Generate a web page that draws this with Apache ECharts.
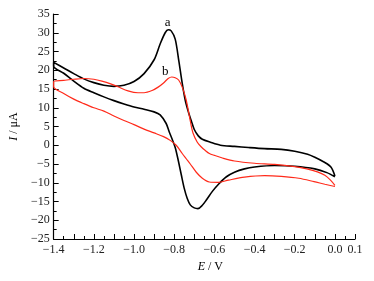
<!DOCTYPE html>
<html>
<head>
<meta charset="utf-8">
<script src="https://cdn.jsdelivr.net/npm/echarts@6/dist/echarts.min.js"></script>
<style>
  html, body { margin: 0; padding: 0; background: #fff; }
  #chart { width: 374px; height: 281px; }
</style>
</head>
<body>
<div id="chart"></div>
<script>
// curve a (black): sweep from 0.0 V to -1.4 V and back, [E, I]
const curveA = [
  [0.0, -8.2], [-0.02, -5.8], [-0.057, -4.4], [-0.1, -3.2], [-0.136, -2.4],
  [-0.2, -1.6], [-0.267, -1.1], [-0.35, -0.9], [-0.43, -0.6], [-0.5, -0.3],
  [-0.57, 0], [-0.62, 0.8], [-0.66, 1.6], [-0.68, 2.5], [-0.7, 4.2],
  [-0.715, 6.5], [-0.73, 9], [-0.745, 12], [-0.76, 16.5], [-0.777, 22.5],
  [-0.795, 28.3], [-0.815, 30.5], [-0.83, 30.8], [-0.845, 30], [-0.87, 27],
  [-0.9, 22.8], [-0.95, 19.1], [-1.0, 17], [-1.05, 16], [-1.1, 15.7],
  [-1.15, 16], [-1.2, 16.7], [-1.25, 17.7], [-1.3, 19.1], [-1.35, 20.6],
  [-1.4, 22.1],
  [-1.4, 21.1], [-1.35, 19.2], [-1.3, 17.1], [-1.25, 15.2], [-1.2, 14.0],
  [-1.15, 12.9], [-1.1, 11.9], [-1.05, 11.0], [-1.0, 10.2], [-0.95, 9.6],
  [-0.9, 8.9], [-0.87, 8.1], [-0.84, 5.8], [-0.825, 3.6], [-0.81, 1.6],
  [-0.795, -0.6], [-0.78, -4], [-0.765, -7.8], [-0.75, -11.5], [-0.735, -14.2],
  [-0.72, -15.9], [-0.7, -16.7], [-0.682, -16.9], [-0.66, -16], [-0.64, -14.6],
  [-0.61, -12.3], [-0.576, -10.2], [-0.54, -8.4], [-0.5, -7.2], [-0.45, -6.3],
  [-0.4, -5.8], [-0.3, -5.4], [-0.2, -5.6], [-0.1, -6.3], [-0.04, -7.3],
  [0.0, -8.4]
]

// curve b (red)
const curveB = [
  [0.0, -10.7], [-0.022, -9.3], [-0.05, -8], [-0.087, -7.1], [-0.14, -6.3],
  [-0.2, -5.7], [-0.3, -5.1], [-0.4, -4.8], [-0.5, -4.2], [-0.56, -3.4],
  [-0.6, -2.7], [-0.625, -2.2], [-0.645, -1.4], [-0.666, -0.4], [-0.685, 0.8],
  [-0.706, 3.2], [-0.72, 6.5], [-0.74, 12], [-0.76, 15.5], [-0.778, 17.4],
  [-0.795, 18], [-0.812, 18.2], [-0.83, 17.8], [-0.853, 16.6], [-0.88, 15.5],
  [-0.91, 14.6], [-0.95, 14.0], [-0.98, 14.0], [-1.03, 14.5], [-1.08, 15.6],
  [-1.113, 16.3], [-1.16, 17.1], [-1.2, 17.6], [-1.25, 17.8], [-1.3, 17.6],
  [-1.35, 17.3], [-1.4, 17.0],
  [-1.4, 15.6], [-1.35, 13.8], [-1.3, 12.3], [-1.25, 11.1], [-1.2, 10.0],
  [-1.15, 9.1], [-1.1, 7.8], [-1.05, 6.6], [-1.0, 5.5], [-0.95, 4.3],
  [-0.9, 3.3], [-0.853, 2.3], [-0.82, 1.3], [-0.79, 0], [-0.76, -2.2],
  [-0.74, -3.6], [-0.72, -5], [-0.69, -7.2], [-0.66, -8.8], [-0.625, -9.8],
  [-0.58, -9.9], [-0.53, -9.3], [-0.45, -8.5], [-0.35, -8.1], [-0.267, -8.3],
  [-0.18, -8.8], [-0.104, -9.7], [-0.05, -10.4], [0.0, -11.0]
]

const labelA = [-0.833, 32.6]
const labelB = [-0.845, 19.6]

const FONT = '"Liberation Serif", "DejaVu Serif", serif'

function minus(s) { return String(s).replace('-', '\u2212') }

const chart = echarts.init(document.getElementById('chart'), null, { renderer: 'canvas' })

function tag(text, coord) {
  return {
    symbol: 'circle', symbolSize: 0, silent: true,
    label: { show: true, formatter: text, position: 'inside', color: '#000', fontFamily: FONT, fontSize: 13 },
    data: [{ coord }],
  }
}

chart.setOption({
  backgroundColor: '#fff',
  animation: false,
  grid: { left: 48, right: 19, top: 14, bottom: 42 },
  xAxis: {
    type: 'value', min: -1.4, max: 0.1, interval: 0.1,
    name: '{i|E} / V', nameLocation: 'middle', nameGap: 20,
    nameTextStyle: {
      color: '#000', fontFamily: FONT, fontSize: 12, padding: [0, 0, 0, 12],
      rich: { i: { fontStyle: 'italic', fontFamily: FONT, fontSize: 12, color: '#000' } },
    },
    axisLine: { show: true, onZero: false, lineStyle: { color: '#000', width: 1.2 } },
    axisTick: { show: true, inside: true, length: 5, lineStyle: { color: '#000' } },
    minorTick: { show: true, splitNumber: 2, length: 3, lineStyle: { color: '#000' } },
    splitLine: { show: false },
    axisLabel: {
      color: '#222', fontFamily: FONT, fontSize: 12, margin: 5,
      formatter: v => {
        const r = Math.round(v * 10)
        if (r % 2 !== 0 && r !== 1) return ''
        return minus((r / 10).toFixed(1))
      },
    },
  },
  yAxis: {
    type: 'value', min: -25, max: 35, interval: 5,
    name: '{i|I} / \u03bcA', nameLocation: 'middle', nameGap: 21,
    nameTextStyle: {
      color: '#000', fontFamily: FONT, fontSize: 12,
      rich: { i: { fontStyle: 'italic', fontFamily: FONT, fontSize: 12, color: '#000' } },
    },
    axisLine: { show: true, onZero: false, lineStyle: { color: '#000', width: 1.2 } },
    axisTick: { show: true, inside: true, length: 5, lineStyle: { color: '#000' } },
    minorTick: { show: true, splitNumber: 2, length: 3, lineStyle: { color: '#000' } },
    splitLine: { show: false },
    axisLabel: {
      color: '#222', fontFamily: FONT, fontSize: 12, margin: 4,
      formatter: v => minus(v),
    },
  },
  series: [
    {
      name: 'a', type: 'line', data: curveA, smooth: 0.3, symbol: 'none',
      lineStyle: { color: '#000', width: 1.6 },
      markPoint: tag('a', labelA),
    },
    {
      name: 'b', type: 'line', data: curveB, smooth: 0.3, symbol: 'none',
      lineStyle: { color: '#ff2a1a', width: 1.2 },
      markPoint: tag('b', labelB),
    },
  ],
})
</script>
</body>
</html>
